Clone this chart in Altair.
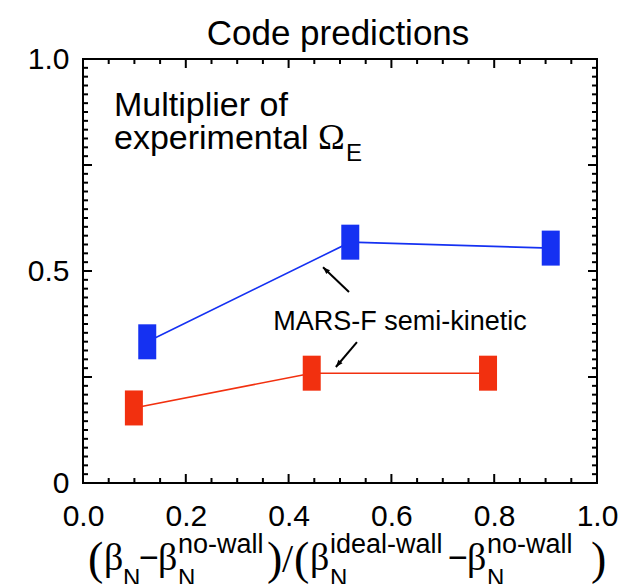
import altair as alt
import pandas as pd
import numpy as np

# ---------------- data ----------------
blue_x = [0.125, 0.52, 0.91]
blue_y = [0.333, 0.568, 0.554]
red_x = [0.099, 0.445, 0.788]
red_y = [0.177, 0.259, 0.259]

x_tick_labels = [0.0, 0.2, 0.4, 0.6, 0.8, 1.0]
y_tick_labels = [0.0, 0.5, 1.0]
x_major = [0.0, 0.2, 0.4, 0.6, 0.8, 1.0]
x_minor_step = 0.05
y_major = [0.0, 0.25, 0.5, 0.75, 1.0]
y_minor_step = 0.25 / 12

# annotation arrows (tail -> head) in data units
arrow_x_tail = [0.5175, 0.533]
arrow_y_tail = [0.4505, 0.3325]
arrow_x_head = [0.467, 0.492]
arrow_y_head = [0.509, 0.2736]
arrow_angle = [313.9, 220.0]

W, H = 514, 424
PL, PT = 83, 59
SANS = "Liberation Sans, Arial, Helvetica, sans-serif"
SERIF = "Liberation Serif, Times New Roman, serif"
BLUE = "#1531f2"
RED = "#f2300f"

xs = alt.Scale(domain=[0, 1], nice=False, zero=False)
ys = alt.Scale(domain=[0, 1], nice=False, zero=False)

blue = pd.DataFrame({"x": blue_x, "y": blue_y})
red = pd.DataFrame({"x": red_x, "y": red_y})

# axes (labels only)
axis_layer = alt.Chart(pd.DataFrame({"x": [0.0], "y": [0.0]})).mark_point(opacity=0).encode(
    x=alt.X("x:Q", scale=xs, title=None,
            axis=alt.Axis(values=x_tick_labels, format=".1f", ticks=False, domain=False, grid=False,
                          labelFont=SANS, labelFontSize=30, labelColor="black", labelPadding=18,
                          labelFlush=False)),
    y=alt.Y("y:Q", scale=ys, title=None,
            axis=alt.Axis(values=y_tick_labels, labelExpr="datum.value == 0 ? '0' : format(datum.value, '.1f')",
                          ticks=False, domain=False, grid=False, labelFont=SANS, labelFontSize=30,
                          labelColor="black", labelPadding=14, labelFlush=False)),
)

# inward ticks on all four sides
def minor_vals(step, majors):
    vals = np.round(np.arange(0, 1 + 1e-9, step), 6)
    return [v for v in vals if min(abs(v - m) for m in majors) > 1e-6]

MAJ, MIN = 9, 5
xt = pd.DataFrame({"v": list(x_major) + minor_vals(x_minor_step, x_major)})
xt["len"] = [MAJ] * len(x_major) + [MIN] * (len(xt) - len(x_major))
yt = pd.DataFrame({"v": list(y_major) + minor_vals(y_minor_step, y_major)})
yt["len"] = [MAJ] * len(y_major) + [MIN] * (len(yt) - len(y_major))
xt["b0"], xt["b1"] = H, H - xt["len"]
xt["t0"], xt["t1"] = 0, xt["len"]
yt["l0"], yt["l1"] = 0, yt["len"]
yt["r0"], yt["r1"] = W, W - yt["len"]

tick_kw = dict(color="black", strokeWidth=2)
ticks = [
    alt.Chart(xt).mark_rule(**tick_kw).encode(x=alt.X("v:Q", scale=xs), y=alt.Y("b0:Q", scale=None), y2="b1:Q"),
    alt.Chart(xt).mark_rule(**tick_kw).encode(x=alt.X("v:Q", scale=xs), y=alt.Y("t0:Q", scale=None), y2="t1:Q"),
    alt.Chart(yt).mark_rule(**tick_kw).encode(y=alt.Y("v:Q", scale=ys), x=alt.X("l0:Q", scale=None), x2="l1:Q"),
    alt.Chart(yt).mark_rule(**tick_kw).encode(y=alt.Y("v:Q", scale=ys), x=alt.X("r0:Q", scale=None), x2="r1:Q"),
]

def series(df, color):
    line = alt.Chart(df).mark_line(color=color, strokeWidth=1.6).encode(
        x=alt.X("x:Q", scale=xs), y=alt.Y("y:Q", scale=ys))
    marks = alt.Chart(df).mark_tick(color=color, orient="vertical", thickness=18, size=35, opacity=1).encode(
        x=alt.X("x:Q", scale=xs), y=alt.Y("y:Q", scale=ys))
    return [line, marks]

arr = pd.DataFrame({"x": arrow_x_tail, "y": arrow_y_tail, "x2": arrow_x_head, "y2": arrow_y_head,
                    "angle": arrow_angle})
arrow_lines = alt.Chart(arr).mark_rule(color="black", strokeWidth=2).encode(
    x=alt.X("x:Q", scale=xs), y=alt.Y("y:Q", scale=ys), x2="x2:Q", y2="y2:Q")
arrow_heads = alt.Chart(arr).mark_point(shape="M0,0L-0.38,1L0.38,1Z", filled=True, color="black",
                                        opacity=1, size=200).encode(
    x=alt.X("x2:Q", scale=xs), y=alt.Y("y2:Q", scale=ys), angle=alt.Angle("angle:Q", scale=None))

# text annotations (pixel positions relative to plot area)
texts = pd.DataFrame([
    # text, x_abs, baseline_abs, font, size, align
    ("Code predictions", 338, 45, SANS, 35, "center"),
    ("Multiplier of", 114, 116, SANS, 34, "left"),
    ("experimental", 114, 149, SANS, 34, "left"),
    ("Ω", 318, 149, SERIF, 36, "left"),
    ("E", 346, 161, SANS, 24, "left"),
    ("MARS-F semi-kinetic", 400, 330, SANS, 27, "center"),
    # x-axis title pieces
    ("(", 88, 574, SERIF, 46, "left"),
    ("β", 104, 570, SERIF, 38, "left"),
    ("N", 123, 586, SANS, 24, "left"),
    ("−", 139, 569, SANS, 34, "left"),
    ("β", 158, 570, SERIF, 38, "left"),
    ("N", 178, 586, SANS, 24, "left"),
    ("no-wall", 178, 553, SANS, 27, "left"),
    (")", 267, 574, SERIF, 46, "left"),
    ("/", 282, 572, SERIF, 40, "left"),
    ("(", 294, 574, SERIF, 46, "left"),
    ("β", 310, 570, SERIF, 38, "left"),
    ("N", 330, 586, SANS, 24, "left"),
    ("ideal-wall", 330, 553, SANS, 27, "left"),
    ("−", 448, 569, SANS, 34, "left"),
    ("β", 467, 570, SERIF, 38, "left"),
    ("N", 487, 586, SANS, 24, "left"),
    ("no-wall", 487, 553, SANS, 27, "left"),
    (")", 591, 574, SERIF, 46, "left"),
], columns=["t", "xa", "ya", "font", "size", "align"])
texts["px"] = texts["xa"] - PL
texts["py"] = texts["ya"] - PT

text_layers = []
for (font, size, align), g in texts.groupby(["font", "size", "align"]):
    text_layers.append(
        alt.Chart(g).mark_text(font=font, fontSize=size, align=align, baseline="alphabetic", color="black").encode(
            x=alt.X("px:Q", scale=None), y=alt.Y("py:Q", scale=None), text="t:N"))

chart = alt.layer(
    axis_layer,
    *ticks,
    *series(blue, BLUE),
    *series(red, RED),
    arrow_lines,
    arrow_heads,
    *text_layers,
).properties(
    width=W, height=H,
    autosize=alt.AutoSizeParams(type="none"),
    padding={"left": PL, "top": PT, "right": 635 - PL - W, "bottom": 584 - PT - H},
    background="white",
).configure_view(stroke="black", strokeWidth=2)

chart.save("out.html", embed_options={"renderer": "svg", "actions": False})
